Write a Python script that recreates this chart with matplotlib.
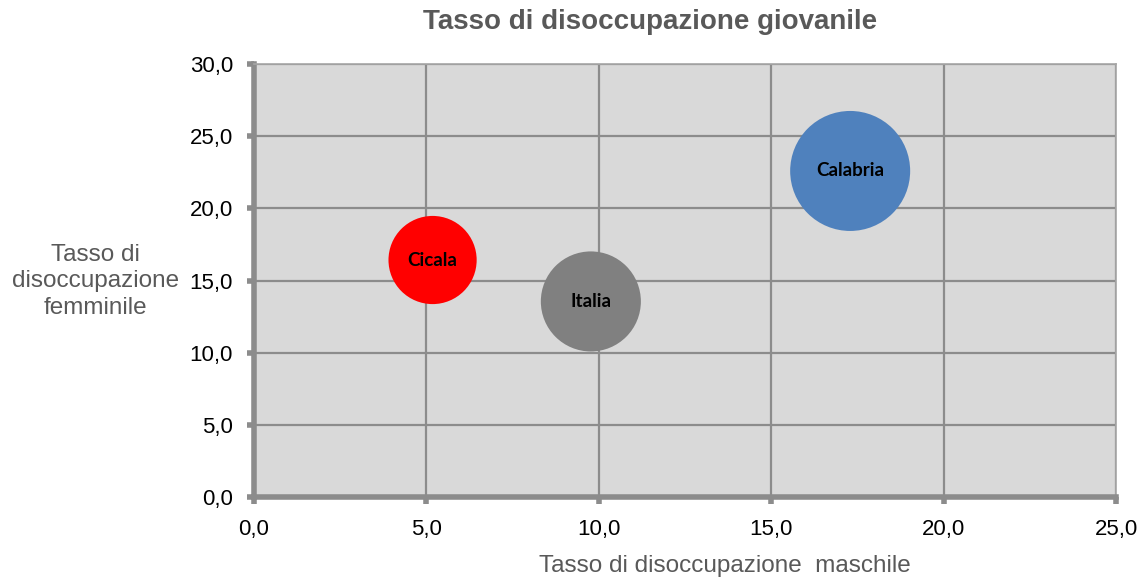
import matplotlib
matplotlib.use('Agg')
import matplotlib.pyplot as plt

# dati
luoghi = ['Cicala', 'Italia', 'Calabria']
maschile = [5.18, 9.77, 17.29]
femminile = [16.42, 13.55, 22.59]
dimensione = [10.8, 13.9, 20.0]
colori = ['#FF0000', '#808080', '#4F81BD']

x_ticks = [0, 5, 10, 15, 20, 25]
y_ticks = [0, 5, 10, 15, 20, 25, 30]

plt.rcParams['font.family'] = ['Liberation Sans', 'DejaVu Sans']

fig = plt.figure(figsize=(11.47, 5.85), dpi=100)
ax = fig.add_axes([0.2214, 0.1504, 0.7516, 0.7402])
ax.set_facecolor('#D9D9D9')

# bolle: area proporzionale alla dimensione
s_max = 7465
sizes = [d / max(dimensione) * s_max for d in dimensione]
ax.scatter(maschile, femminile, s=sizes, c=colori, edgecolors='none', zorder=3)
for nome, x, y in zip(luoghi, maschile, femminile):
    ax.text(x, y, nome, ha='center', va='center', fontsize=13.5,
            fontweight='bold', family=['Lato', 'DejaVu Sans'], zorder=4)

ax.set_xlim(0, 25)
ax.set_ylim(0, 30)
ax.set_xticks(x_ticks)
ax.set_yticks(y_ticks)
fmt = lambda v: f'{v:.1f}'.replace('.', ',')
ax.set_xticklabels([fmt(v) for v in x_ticks], fontsize=16)
ax.set_yticklabels([fmt(v) for v in y_ticks], fontsize=16)

ax.grid(True, color='#8C8C8C', linewidth=1.6, zorder=1)
ax.set_axisbelow(True)
for side in ['left', 'bottom']:
    ax.spines[side].set_color('#8C8C8C')
    ax.spines[side].set_linewidth(4)
for side in ['top', 'right']:
    ax.spines[side].set_color('#A6A6A6')
    ax.spines[side].set_linewidth(1.2)
ax.tick_params(axis='both', length=5, width=4, color='#8C8C8C')
ax.tick_params(axis='x', pad=11)
ax.tick_params(axis='y', pad=10)

fig.text(0.567, 0.963, 'Tasso di disoccupazione giovanile', ha='center',
         va='center', fontsize=20, fontweight='bold', color='#595959')
fig.text(0.632, 0.0325, 'Tasso di disoccupazione  maschile', ha='center',
         va='center', fontsize=17.5, color='#595959')
fig.text(0.083, 0.519, 'Tasso di\ndisoccupazione\nfemminile', ha='center',
         va='center', fontsize=17.5, color='#595959', linespacing=1.27)

fig.savefig('out.png', dpi=100)
